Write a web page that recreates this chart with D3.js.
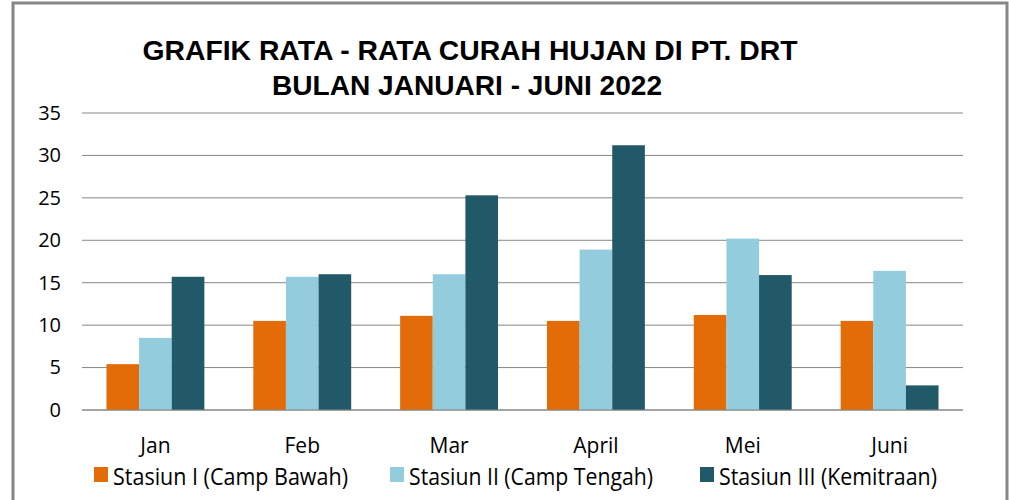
<!DOCTYPE html>
<html>
<head>
<meta charset="utf-8">
<script src="https://cdn.jsdelivr.net/npm/d3@7"></script>
<style>
  body { margin: 0; background: #fff; }
  text { font-family: "Open Sans", "DejaVu Sans Condensed", sans-serif; }
</style>
</head>
<body>
<svg></svg>
<script>
// data
var months = ["Jan", "Feb", "Mar", "April", "Mei", "Juni"];
var seriesNames = ["Stasiun I (Camp Bawah)", "Stasiun II (Camp Tengah)", "Stasiun III (Kemitraan)"];
var stasiun1 = [5.4, 10.5, 11.1, 10.5, 11.2, 10.5];
var stasiun2 = [8.5, 15.7, 16.0, 18.9, 20.2, 16.4];
var stasiun3 = [15.7, 16.0, 25.3, 31.2, 15.9, 2.9];
var yTicks = [0, 5, 10, 15, 20, 25, 30, 35];
var titleLines = ["GRAFIK RATA - RATA CURAH HUJAN  DI PT. DRT", "BULAN JANUARI - JUNI 2022"];

var colors = ["#E36C09", "#93CDDD", "#215968"];
var allSeries = [stasiun1, stasiun2, stasiun3];

var svgWidth = 1009, svgHeight = 500;
var svg = d3.select("svg").attr("width", svgWidth).attr("height", svgHeight);

// chart frame
svg.append("rect")
  .attr("x", 13).attr("y", 3)
  .attr("width", 994).attr("height", 510)
  .attr("fill", "#fff")
  .attr("stroke", "#868686")
  .attr("stroke-width", 3);

var plotLeft = 82, plotRight = 963, plotTop = 113, plotBottom = 410;

var xScale = d3.scaleBand().domain(months).range([plotLeft, plotRight]).paddingInner(0).paddingOuter(0);
var yScale = d3.scaleLinear().domain([0, 35]).range([plotBottom, plotTop]);

// gridlines
svg.append("g").selectAll("line")
  .data(yTicks).enter()
  .append("line")
  .attr("x1", plotLeft).attr("x2", plotRight)
  .attr("y1", function(d) { return yScale(d); })
  .attr("y2", function(d) { return yScale(d); })
  .attr("stroke", "#868686")
  .attr("stroke-width", 1);

// y labels
var yAxis = d3.axisLeft(yScale).tickValues(yTicks).tickSize(0).tickPadding(0);
var yg = svg.append("g").attr("transform", "translate(61,0)").call(yAxis);
yg.select(".domain").remove();
yg.selectAll("text").attr("font-size", "20px").attr("fill", "#000")
  .style("font-family", "'Open Sans', sans-serif");

// bars: Excel style gap width 150%
var band = xScale.bandwidth();
var barW = band / 4.5;
var groupOff = barW * 0.75;

var groups = svg.append("g").selectAll("g")
  .data(allSeries).enter()
  .append("g")
  .attr("fill", function(d, i) { return colors[i]; });

groups.each(function(values, si) {
  d3.select(this).selectAll("rect")
    .data(values).enter()
    .append("rect")
    .attr("x", function(d, i) { return xScale(months[i]) + groupOff + si * barW; })
    .attr("y", function(d) { return yScale(d); })
    .attr("width", barW)
    .attr("height", function(d) { return yScale(0) - yScale(d); });
});

// redraw baseline on top
svg.append("line")
  .attr("x1", plotLeft).attr("x2", plotRight)
  .attr("y1", yScale(0)).attr("y2", yScale(0))
  .attr("stroke", "#868686").attr("stroke-width", 1);

// x labels
var xAxis = d3.axisBottom(xScale).tickSize(0).tickPadding(0);
var xg = svg.append("g").attr("transform", "translate(0,438)").call(xAxis);
xg.select(".domain").remove();
xg.selectAll("text").attr("font-size", "21px").attr("fill", "#000")
  .style("font-family", "'Open Sans', sans-serif");

// title
svg.append("g").selectAll("text")
  .data(titleLines).enter()
  .append("text")
  .attr("x", function(d, i) { return i == 0 ? 470 : 467; })
  .attr("y", function(d, i) { return 60 + i * 35; })
  .attr("text-anchor", "middle")
  .attr("font-size", "28px")
  .attr("font-weight", "bold")
  .attr("textLength", function(d, i) { return i == 0 ? 655 : 390; })
  .attr("lengthAdjust", "spacingAndGlyphs")
  .style("font-family", "'Liberation Sans', Arial, sans-serif")
  .text(function(d) { return d; });

// legend
var legendX = [94, 390, 700];
var legendW = [235, 244, 218];
var legend = svg.append("g").selectAll("g")
  .data(seriesNames).enter()
  .append("g")
  .attr("transform", function(d, i) { return "translate(" + legendX[i] + ",467)"; });
legend.append("rect")
  .attr("width", 14).attr("height", 15)
  .attr("fill", function(d, i) { return colors[i]; });
legend.append("text")
  .attr("x", 19).attr("y", 18)
  .attr("font-size", "23px")
  .attr("textLength", function(d, i) { return legendW[i]; })
  .attr("lengthAdjust", "spacingAndGlyphs")
  .text(function(d) { return d; });
</script>
</body>
</html>
